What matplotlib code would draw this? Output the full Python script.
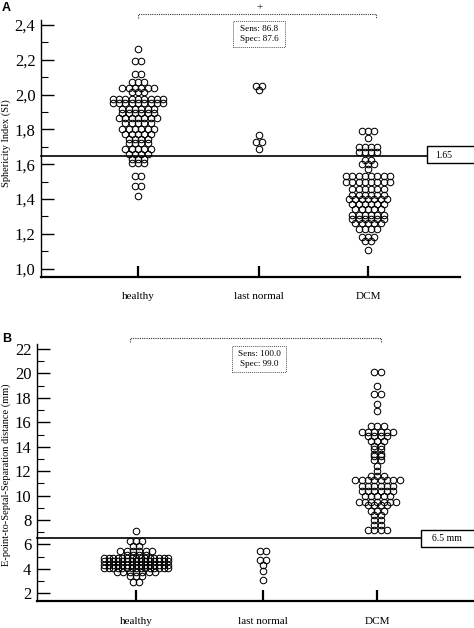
import numpy as np
import matplotlib
matplotlib.use('Agg')
import matplotlib.pyplot as plt
from matplotlib.patches import Rectangle

plt.rcParams['font.family'] = ['Liberation Serif', 'DejaVu Serif']

categories = ['healthy', 'last normal', 'DCM']

# panel A: sphericity index, one row of dots per listed value
si_healthy = [2.26,
              2.195, 2.195,
              2.12, 2.12,
              2.07, 2.07, 2.07,
              2.04, 2.04, 2.04, 2.04, 2.04, 2.04,
              2.015, 2.015, 2.015,
              1.975, 1.975, 1.975, 1.975, 1.975, 1.975, 1.975, 1.975, 1.975,
              1.95, 1.95, 1.95, 1.95, 1.95, 1.95, 1.95, 1.95, 1.95,
              1.92, 1.92, 1.92, 1.92, 1.92, 1.92,
              1.895, 1.895, 1.895, 1.895, 1.895, 1.895,
              1.865, 1.865, 1.865, 1.865, 1.865, 1.865, 1.865,
              1.835, 1.835, 1.835, 1.835, 1.835,
              1.805, 1.805, 1.805, 1.805, 1.805, 1.805,
              1.775, 1.775, 1.775, 1.775, 1.775,
              1.745, 1.745, 1.745, 1.745,
              1.72, 1.72, 1.72, 1.72,
              1.69, 1.69, 1.69, 1.69, 1.69,
              1.66, 1.66, 1.66, 1.66,
              1.63, 1.63, 1.63,
              1.605, 1.605, 1.605,
              1.535, 1.535,
              1.475, 1.475,
              1.42]
si_last = [2.05, 2.05, 2.025, 1.77, 1.73, 1.73, 1.69]
si_dcm = [1.79, 1.79, 1.79,
          1.75,
          1.70, 1.70, 1.70, 1.70,
          1.67, 1.67, 1.67, 1.67,
          1.625, 1.625,
          1.60, 1.60, 1.60,
          1.57,
          1.53, 1.53, 1.53, 1.53, 1.53, 1.53, 1.53, 1.53,
          1.50, 1.50, 1.50, 1.50, 1.50, 1.50, 1.50, 1.50,
          1.46, 1.46, 1.46, 1.46, 1.46, 1.46,
          1.425, 1.425, 1.425, 1.425, 1.425, 1.425,
          1.40, 1.40, 1.40, 1.40, 1.40, 1.40, 1.40,
          1.37, 1.37, 1.37, 1.37, 1.37, 1.37,
          1.34, 1.34, 1.34, 1.34, 1.34,
          1.31, 1.31, 1.31, 1.31, 1.31, 1.31,
          1.285, 1.285, 1.285, 1.285, 1.285, 1.285,
          1.26, 1.26, 1.26, 1.26, 1.26,
          1.23, 1.23, 1.23, 1.23,
          1.18, 1.18, 1.18,
          1.16, 1.16,
          1.105]

# panel B: E-point-to-septal separation (mm)
epss_healthy = [7.13,
                6.25, 6.25, 6.25,
                5.85, 5.85,
                5.45, 5.45, 5.45, 5.45, 5.45, 5.45,
                5.15, 5.15, 5.15, 5.15,
                4.87, 4.87, 4.87, 4.87, 4.87, 4.87, 4.87, 4.87, 4.87, 4.87, 4.87, 4.87, 4.87, 4.87, 4.87,
                4.62, 4.62, 4.62, 4.62, 4.62, 4.62, 4.62, 4.62, 4.62, 4.62, 4.62, 4.62, 4.62, 4.62, 4.62,
                4.35, 4.35, 4.35, 4.35, 4.35, 4.35, 4.35, 4.35, 4.35, 4.35, 4.35, 4.35, 4.35, 4.35, 4.35,
                4.07, 4.07, 4.07, 4.07, 4.07, 4.07, 4.07, 4.07, 4.07, 4.07, 4.07, 4.07, 4.07, 4.07, 4.07,
                3.72, 3.72, 3.72, 3.72, 3.72, 3.72, 3.72,
                3.4, 3.4, 3.4,
                2.95, 2.95]
epss_last = [5.5, 5.5, 4.73, 4.73, 4.3, 3.8, 3.05]
epss_dcm = [20.1, 20.1,
            18.95,
            18.3, 18.3,
            17.5,
            16.9,
            15.7, 15.7, 15.7,
            15.2, 15.2, 15.2, 15.2, 15.2, 15.2,
            14.9, 14.9, 14.9, 14.9,
            14.5, 14.5, 14.5,
            14.1, 14.1,
            13.85, 13.85,
            13.4, 13.4,
            13.2, 13.2,
            12.9, 12.9,
            12.45,
            12.05,
            11.6, 11.6, 11.6,
            11.3, 11.3, 11.3, 11.3, 11.3, 11.3, 11.3, 11.3,
            10.8, 10.8, 10.8, 10.8, 10.8, 10.8,
            10.4, 10.4, 10.4, 10.4, 10.4, 10.4,
            10.0, 10.0, 10.0, 10.0, 10.0,
            9.5, 9.5, 9.5, 9.5, 9.5, 9.5, 9.5,
            9.2, 9.2, 9.2, 9.2,
            8.7, 8.7, 8.7,
            8.4, 8.4,
            8.0, 8.0,
            7.6, 7.6,
            7.2, 7.2, 7.2, 7.2]

si_cutoff = 1.65
epss_cutoff = 6.5
si_stats = 'Sens: 86.8\nSpec: 87.6'
epss_stats = 'Sens: 100.0\nSpec: 99.0'
si_ticks = [1.0, 1.2, 1.4, 1.6, 1.8, 2.0, 2.2, 2.4]
si_ticklabels = ['1,0', '1,2', '1,4', '1,6', '1,8', '2,0', '2,2', '2,4']
epss_ticks = [2, 4, 6, 8, 10, 12, 14, 16, 18, 20, 22]

cat_pos = [1.0, 2.0, 2.9]
DOT_STEP = 6.3  # px between dot centres in a row


def row_offsets(vals, step_px, max_span_px):
    # equal values sit side by side in one row, squeezed if the row gets too wide
    vals = np.asarray(vals)
    offs = np.zeros(len(vals))
    for v in np.unique(vals):
        idx = np.where(vals == v)[0]
        n = len(idx)
        s = step_px if n < 2 else min(step_px, max_span_px / (n - 1))
        offs[idx] = (np.arange(n) - (n - 1) / 2) * s
    return offs


def px_per_x(ax):
    return ax.transData.transform((1, 0))[0] - ax.transData.transform((0, 0))[0]


def draw_dots(ax, groups, spans):
    ppx = px_per_x(ax)
    for pos, vals, span in zip(cat_pos, groups, spans):
        x = pos + row_offsets(vals, DOT_STEP, span) / ppx
        ax.plot(x, vals, 'o', ms=4.7, mfc='none', mec='black', mew=0.75,
                clip_on=False)


def style_axes(ax):
    ax.spines['top'].set_visible(False)
    ax.spines['right'].set_visible(False)
    ax.spines['left'].set_linewidth(1.0)
    ax.spines['bottom'].set_linewidth(1.6)
    ax.set_xticks(cat_pos)
    ax.set_xticklabels(categories, fontsize=8)
    ax.tick_params(axis='x', direction='in', length=8, width=1.6, pad=11)
    ax.tick_params(axis='y', which='major', direction='in', length=9,
                   width=1.0, pad=4, labelsize=12)
    ax.tick_params(axis='y', which='minor', direction='in', length=5,
                   width=0.8)


def bracket(ax, x0, x1, y, drop):
    ax.plot([x0, x0, x1, x1], [y - drop, y, y, y - drop], color='#333333',
            lw=0.8, ls=(0, (1, 1)), clip_on=False)


def stats_box(ax, x0, x1, y0, y1, txt):
    ax.add_patch(Rectangle((x0, y0), x1 - x0, y1 - y0, fc='white',
                           ec='#555555', lw=0.7, ls=(0, (1, 1)), clip_on=False))
    ax.text((x0 + x1) / 2, (y0 + y1) / 2, txt, ha='center', va='center',
            fontsize=6.6, linespacing=1.25)


def cutoff(ax, xl, xbox, xr, val, y0, y1, label, xtext):
    ax.plot([xl, xbox], [val, val], color='black', lw=1.2, clip_on=False)
    ax.add_patch(Rectangle((xbox, y0), xr - xbox, y1 - y0, fc='white',
                           ec='black', lw=1.0, clip_on=False))
    ax.text(xtext, val, label, ha='center', va='center', fontsize=7)


fig = plt.figure(figsize=(4.74, 6.28), dpi=100)

# ---- panel A
axA = fig.add_axes([41 / 474, 351 / 628, 419 / 474, 257 / 628])
axA.set_xlim(0.198, 3.66)
axA.set_ylim(0.952, 2.429)
style_axes(axA)
axA.set_yticks(si_ticks)
axA.set_yticklabels(si_ticklabels)
axA.set_yticks(np.arange(1.1, 2.4, 0.2), minor=True)
axA.set_ylabel('Sphericity Index (SI)', fontsize=7.5)
axA.yaxis.set_label_coords(-0.072, 0.52)
draw_dots(axA, [si_healthy, si_last, si_dcm], [60, 60, 60])
cutoff(axA, 0.198, 3.39, 3.9, si_cutoff, 1.607, 1.705, '1.65', 3.525)
bracket(axA, 1.0, 2.97, 2.466, 0.028)
axA.text(2.0, 2.498, '+', ha='center', va='center', fontsize=8)
stats_box(axA, 1.785, 2.215, 2.274, 2.423, si_stats)
fig.text(0.004, 0.987, 'A', fontsize=9, fontweight='bold', family='Liberation Sans',
         va='center')

# ---- panel B
axB = fig.add_axes([37 / 474, 26.7 / 628, 437 / 474, 257.3 / 628])
axB.set_xlim(0.22, 3.66)
axB.set_ylim(1.345, 22.41)
style_axes(axB)
axB.set_yticks(epss_ticks)
axB.set_yticks(np.arange(3, 22, 2), minor=True)
axB.set_ylabel('E-point-to-Septal-Separation distance (mm)', fontsize=7.5)
axB.yaxis.set_label_coords(-0.06, 0.49)
draw_dots(axB, [epss_healthy, epss_last, epss_dcm], [64, 60, 60])
cutoff(axB, 0.22, 3.246, 3.8, epss_cutoff, 5.77, 7.18, '6.5 mm', 3.45)
bracket(axB, 0.953, 2.926, 22.9, 0.3)
stats_box(axB, 1.754, 2.181, 20.09, 22.27, epss_stats)
fig.text(0.004, 1 - 339 / 628, 'B', fontsize=9, fontweight='bold',
         family='Liberation Sans', va='center')

fig.savefig('out.png', dpi=100)
